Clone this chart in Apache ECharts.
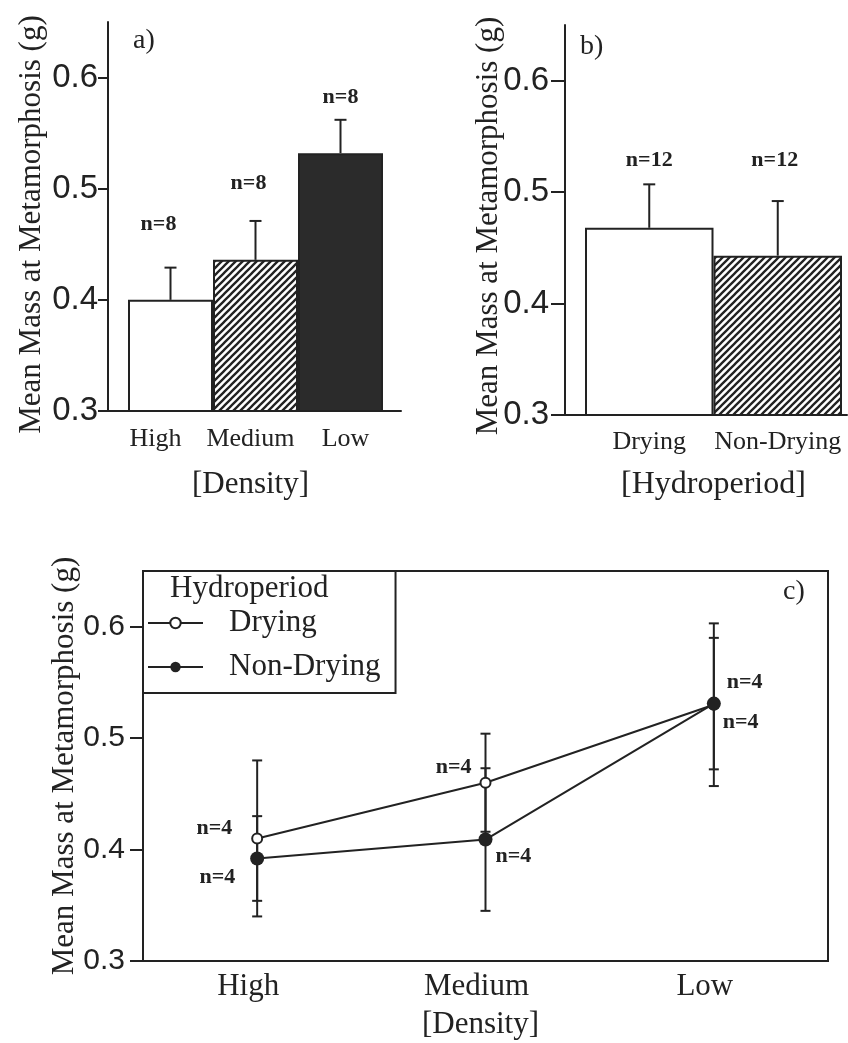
<!DOCTYPE html>
<html>
<head>
<meta charset="utf-8">
<script src="https://cdn.jsdelivr.net/npm/echarts@6/dist/echarts.min.js"></script>
<style>
  html, body { margin: 0; padding: 0; background: #fff; }
  #chart { width: 848px; height: 1043px; }
</style>
</head>
<body>
<div id="chart"></div>
<script>
// ---- data ----
const densityLevels = ['High', 'Medium', 'Low'];
const hydroLevels = ['Drying', 'Non-Drying'];
const yTickValues = [0.3, 0.4, 0.5, 0.6];

// a) mean mass at metamorphosis by density (mean, +SE, n)
const densityMean = [0.400, 0.436, 0.532];
const densitySE = [0.029, 0.035, 0.030];
const densityN = [8, 8, 8];

// b) mean mass at metamorphosis by hydroperiod
const hydroMean = [0.468, 0.443];
const hydroSE = [0.039, 0.049];
const hydroN = [12, 12];

// c) density x hydroperiod
const dryingMean = [0.410, 0.460, 0.530];
const dryingSE = [0.070, 0.044, 0.073];
const nonDryingMean = [0.392, 0.409, 0.531];
const nonDryingSE = [0.038, 0.064, 0.059];
const cellN = [4, 4, 4];

// ---- styling helpers ----
const INK = '#222';
const SERIF = 'Liberation Serif';
const SANS = 'Liberation Sans';
const Y_MIN = 0.3, Y_MAX = 0.65;

function hatchPattern() {
  const s = 7;
  const cv = document.createElement('canvas');
  cv.width = s; cv.height = s;
  const g = cv.getContext('2d');
  g.fillStyle = '#fff';
  g.fillRect(0, 0, s, s);
  g.strokeStyle = INK;
  g.lineWidth = 2.3;
  g.beginPath();
  g.moveTo(-1, s + 1); g.lineTo(s + 1, -1);
  g.moveTo(-2, 2); g.lineTo(2, -2);
  g.moveTo(s - 2, s + 2); g.lineTo(s + 2, s - 2);
  g.stroke();
  return cv;
}
const hatch = { image: hatchPattern(), repeat: 'repeat' };

function errorBars(xIdx, yIdx, means, ses, bothSides, capWidth) {
  return {
    type: 'custom',
    xAxisIndex: xIdx,
    yAxisIndex: yIdx,
    silent: true,
    z: 4,
    encode: { x: 0, y: 1 },
    data: means.map((m, i) => [i, m, ses[i]]),
    renderItem(params, api) {
      const i = api.value(0), m = api.value(1), e = api.value(2);
      const hi = api.coord([i, m + e]);
      const lo = api.coord([i, bothSides ? m - e : m]);
      const hw = capWidth / 2;
      const st = { stroke: INK, lineWidth: 2 };
      const kids = [
        { type: 'line', shape: { x1: hi[0], y1: hi[1], x2: lo[0], y2: lo[1] }, style: st },
        { type: 'line', shape: { x1: hi[0] - hw, y1: hi[1], x2: hi[0] + hw, y2: hi[1] }, style: st }
      ];
      if (bothSides) {
        kids.push({ type: 'line', shape: { x1: lo[0] - hw, y1: lo[1], x2: lo[0] + hw, y2: lo[1] }, style: st });
      }
      return { type: 'group', children: kids };
    }
  };
}

function valueAxis(gridIndex, opts) {
  const visible = opts.visible;
  return {
    type: 'value',
    gridIndex,
    min: Y_MIN,
    max: Y_MAX,
    show: visible,
    splitLine: { show: false },
    axisLine: { show: visible, lineStyle: { color: INK, width: 2 } },
    axisTick: { show: visible, customValues: yTickValues, length: opts.tickLen || 10, lineStyle: { color: INK, width: 2 } },
    axisLabel: {
      show: visible, customValues: yTickValues, margin: opts.labelMargin || 10,
      color: INK, fontFamily: SANS, fontSize: opts.labelSize || 32
    },
    name: opts.name || '',
    nameLocation: 'middle',
    nameRotate: 90,
    nameGap: opts.nameGap || 60,
    nameMoveOverlap: false,
    nameTextStyle: { color: INK, fontFamily: SERIF, fontSize: 31, padding: opts.namePad || 0 }
  };
}

const yTitle = 'Mean Mass at Metamorphosis (g)';
const nLabelStyle = { color: INK, fontFamily: SERIF, fontWeight: 'bold', fontSize: 22 };

// label placement for the n= annotations of panels a and b
const densityLabelPlace = [
  { distance: 65, offset: [-12, 0] },
  { distance: 66, offset: [-7, 0] },
  { distance: 45, offset: [0, 0] }
];
const hydroLabelPlace = [
  { distance: 56, offset: [0, 0] },
  { distance: 84, offset: [-3, 0] }
];
// label placement for the n= annotations of panel c
const dryingLabelPlace = [
  { position: 'left', distance: 19, offset: [0, -10] },
  { position: 'left', distance: 8, offset: [0, -15] },
  { position: 'right', distance: 7, offset: [0, -22] }
];
const nonDryingLabelPlace = [
  { position: 'left', distance: 15, offset: [0, 19] },
  { position: 'right', distance: 3, offset: [0, 17] },
  { position: 'right', distance: 2, offset: [0, 19] }
];

const densityFills = ['#fff', hatch, '#2b2b2b'];
const hydroFills = ['#fff', hatch];

const option = {
  backgroundColor: '#fff',
  animation: false,
  title: [
    { text: 'a)', left: 133, top: 27, padding: 0, textStyle: { color: INK, fontFamily: SERIF, fontWeight: 'normal', fontSize: 28 } },
    { text: 'b)', left: 580, top: 33, padding: 0, textStyle: { color: INK, fontFamily: SERIF, fontWeight: 'normal', fontSize: 28 } },
    { text: 'c)', left: 783, top: 578, padding: 0, textStyle: { color: INK, fontFamily: SERIF, fontWeight: 'normal', fontSize: 28 } },
    { text: 'Hydroperiod', left: 170, top: 573, padding: 0, textStyle: { color: INK, fontFamily: SERIF, fontWeight: 'normal', fontSize: 31 } }
  ],
  legend: {
    data: ['Drying', 'Non-Drying'],
    orient: 'vertical',
    left: 143,
    top: 571,
    padding: [34, 15, 8, 4],
    itemWidth: 55,
    itemHeight: 13,
    itemGap: 8,
    borderColor: INK,
    borderWidth: 2,
    backgroundColor: '#fff',
    selectedMode: false,
    textStyle: { color: INK, fontFamily: SERIF, fontSize: 31, lineHeight: 36, padding: [0, 0, 0, 21] }
  },
  grid: [
    { left: 108, top: 22, width: 293, height: 389 },   // a: axes
    { left: 128, top: 22, width: 255, height: 389 },   // a: bars
    { left: 108, top: 22, width: 285, height: 389 },   // a: category labels
    { left: 565, top: 25, width: 282, height: 390 },   // b: axes
    { left: 585, top: 25, width: 257, height: 390 },   // b: bars + labels
    { left: 143, top: 571, width: 685, height: 390, show: true, borderColor: INK, borderWidth: 2 } // c
  ],
  xAxis: [
    { type: 'category', gridIndex: 0, data: densityLevels, axisLine: { lineStyle: { color: INK, width: 2 } }, axisTick: { show: false }, axisLabel: { show: false } },
    { type: 'category', gridIndex: 1, data: densityLevels, show: false },
    {
      type: 'category', gridIndex: 2, data: densityLevels,
      axisLine: { show: false }, axisTick: { show: false },
      axisLabel: { interval: 0, hideOverlap: false, margin: 15, color: INK, fontFamily: SERIF, fontSize: 26 },
      name: '[Density]', nameLocation: 'middle', nameGap: 58,
      nameTextStyle: { color: INK, fontFamily: SERIF, fontSize: 31 }
    },
    { type: 'category', gridIndex: 3, data: hydroLevels, axisLine: { lineStyle: { color: INK, width: 2 } }, axisTick: { show: false }, axisLabel: { show: false } },
    {
      type: 'category', gridIndex: 4, data: hydroLevels,
      axisLine: { show: false }, axisTick: { show: false },
      axisLabel: { interval: 0, hideOverlap: false, margin: 14, color: INK, fontFamily: SERIF, fontSize: 26 },
      name: '[Hydroperiod]', nameLocation: 'middle', nameGap: 54,
      nameTextStyle: { color: INK, fontFamily: SERIF, fontSize: 32 }
    },
    {
      type: 'category', gridIndex: 5, data: densityLevels,
      axisLine: { lineStyle: { color: INK, width: 2 } }, axisTick: { show: false },
      axisLabel: { interval: 0, margin: 10, color: INK, fontFamily: SERIF, fontSize: 31, padding: [0, 18, 0, 0] },
      name: '[Density]', nameLocation: 'middle', nameGap: 48,
      nameTextStyle: { color: INK, fontFamily: SERIF, fontSize: 31, padding: [0, 10, 0, 0] }
    }
  ],
  yAxis: [
    valueAxis(0, { visible: true, name: yTitle, nameGap: 61, namePad: [0, 16, 0, 0], tickLen: 10, labelMargin: 10, labelSize: 33 }),
    valueAxis(1, { visible: false }),
    valueAxis(2, { visible: false }),
    valueAxis(3, { visible: true, name: yTitle, nameGap: 61, namePad: [0, 12, 0, 0], tickLen: 14, labelMargin: 16, labelSize: 33 }),
    valueAxis(4, { visible: false }),
    valueAxis(5, { visible: true, name: yTitle, nameGap: 63, tickLen: 13, labelMargin: 18, labelSize: 30 })
  ],
  series: [
    {
      type: 'bar', xAxisIndex: 1, yAxisIndex: 1, clip: true,
      barCategoryGap: '0%',
      data: densityMean.map((v, i) => ({
        value: v,
        itemStyle: { color: densityFills[i], borderColor: INK, borderWidth: 2 },
        label: { show: true, position: 'top', distance: densityLabelPlace[i].distance, offset: densityLabelPlace[i].offset }
      })),
      label: { formatter: p => 'n=' + densityN[p.dataIndex], ...nLabelStyle }
    },
    errorBars(1, 1, densityMean, densitySE, false, 12),
    {
      type: 'bar', xAxisIndex: 4, yAxisIndex: 4, clip: true,
      barCategoryGap: '0%',
      data: hydroMean.map((v, i) => ({
        value: v,
        itemStyle: { color: hydroFills[i], borderColor: INK, borderWidth: 2 },
        label: { show: true, position: 'top', distance: hydroLabelPlace[i].distance, offset: hydroLabelPlace[i].offset }
      })),
      label: { formatter: p => 'n=' + hydroN[p.dataIndex], ...nLabelStyle }
    },
    errorBars(4, 4, hydroMean, hydroSE, false, 12),
    errorBars(5, 5, dryingMean, dryingSE, true, 10),
    errorBars(5, 5, nonDryingMean, nonDryingSE, true, 10),
    {
      name: 'Drying', type: 'line', xAxisIndex: 5, yAxisIndex: 5, z: 6,
      symbol: 'emptyCircle', symbolSize: 10,
      lineStyle: { color: INK, width: 2 },
      itemStyle: { color: INK, borderColor: INK, borderWidth: 2 },
      data: dryingMean.map((v, i) => ({
        value: v,
        label: { show: true, position: dryingLabelPlace[i].position, distance: dryingLabelPlace[i].distance, offset: dryingLabelPlace[i].offset }
      })),
      label: { formatter: p => 'n=' + cellN[p.dataIndex], ...nLabelStyle }
    },
    {
      name: 'Non-Drying', type: 'line', xAxisIndex: 5, yAxisIndex: 5, z: 7,
      symbol: 'circle', symbolSize: 14,
      lineStyle: { color: INK, width: 2 },
      itemStyle: { color: INK },
      data: nonDryingMean.map((v, i) => ({
        value: v,
        label: { show: true, position: nonDryingLabelPlace[i].position, distance: nonDryingLabelPlace[i].distance, offset: nonDryingLabelPlace[i].offset }
      })),
      label: { formatter: p => 'n=' + cellN[p.dataIndex], ...nLabelStyle }
    }
  ]
};

const chart = echarts.init(document.getElementById('chart'), null, { renderer: 'canvas' });
chart.setOption(option);
</script>
</body>
</html>
